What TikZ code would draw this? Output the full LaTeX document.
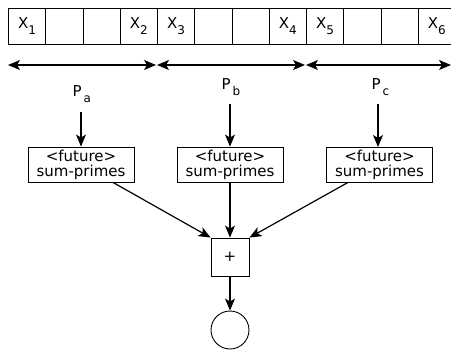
\documentclass[tikz,border=0pt]{standalone}
\usepackage{fontspec}
\setmainfont{DejaVu Sans}
\usetikzlibrary{arrows.meta}
\newcommand{\lowsub}[1]{\raisebox{-6pt}{\fontsize{12}{12}\selectfont #1}}
\begin{document}
\begin{tikzpicture}[x=1pt,y=-1pt,
  font=\fontsize{15}{15}\selectfont,
  cell/.style={draw, line width=0.9pt, minimum width=37.25pt, minimum height=36pt, inner sep=0pt, anchor=north west},
  fbox/.style={draw, line width=0.9pt, minimum width=106pt, minimum height=35pt, inner sep=1pt, align=center},
  plusbox/.style={draw, line width=0.9pt, minimum size=38pt, inner sep=0pt},
  res/.style={draw, line width=0.9pt, circle, minimum size=38pt, inner sep=0pt},
  plab/.style={anchor=base west, inner sep=0pt},
  arr/.style={-{Stealth[length=12pt,width=10pt,inset=3pt]}, line width=1.2pt},
  dbl/.style={{Stealth[length=12pt,width=10pt,inset=3pt]}-{Stealth[length=12pt,width=10pt,inset=3pt]}, line width=1.2pt}]
\useasboundingbox (0,0) rectangle (451,349);
\clip (0,0) rectangle (451,349);
% cells
\node[cell] (c1) at (8,8) {X\lowsub{1}};
\node[cell] (c2) at (45.25,8) {};
\node[cell] (c3) at (82.5,8) {};
\node[cell] (c4) at (119.75,8) {X\lowsub{2}};
\node[cell] (c5) at (157,8) {X\lowsub{3}};
\node[cell] (c6) at (194.25,8) {};
\node[cell] (c7) at (231.5,8) {};
\node[cell] (c8) at (268.75,8) {X\lowsub{4}};
\node[cell] (c9) at (306,8) {X\lowsub{5}};
\node[cell] (c10) at (343.25,8) {};
\node[cell] (c11) at (380.5,8) {};
\node[cell] (c12) at (417.75,8) {X\lowsub{6}\hspace{6pt}};
% range arrows
\coordinate (r0) at (8,65);
\coordinate (r1) at (156,65);
\coordinate (r2) at (157,65);
\coordinate (r3) at (305,65);
\coordinate (r4) at (306,65);
\coordinate (r5) at (451,65);
\draw[dbl] (r0) -- (r1);
\draw[dbl] (r2) -- (r3);
\draw[dbl] (r4) -- (r5);
% P labels
\node[plab] (pa) at (72.5,96) {P\hspace{2pt}\lowsub{a}};
\node[plab] (pb) at (221.5,89) {P\hspace{2pt}\lowsub{b}};
\node[plab] (pc) at (371.5,89) {P\hspace{2pt}\lowsub{c}};
% future boxes
\node[fbox] (fa) at (81,164.5) {<future>\\sum-primes};
\node[fbox] (fb) at (230,164.5) {<future>\\sum-primes};
\node[fbox] (fc) at (379.5,164.5) {<future>\\sum-primes};
\draw[arr] (fa.north |- 0,112) -- (fa.north);
\draw[arr] (fb.north |- 0,104) -- (fb.north);
\draw[arr] (378,104) -- (378,147);
% plus and result
\node[plusbox] (plus) at (230,257) {+};
\node[res] (out) at (230,330) {};
\draw[arr] ([xshift=32pt]fa.south) -- (plus.north west);
\draw[arr] (fb.south) -- (plus.north);
\draw[arr] ([xshift=-31.5pt]fc.south) -- (plus.north east);
\draw[arr] (plus.south) -- (out.north);
\end{tikzpicture}
\end{document}
